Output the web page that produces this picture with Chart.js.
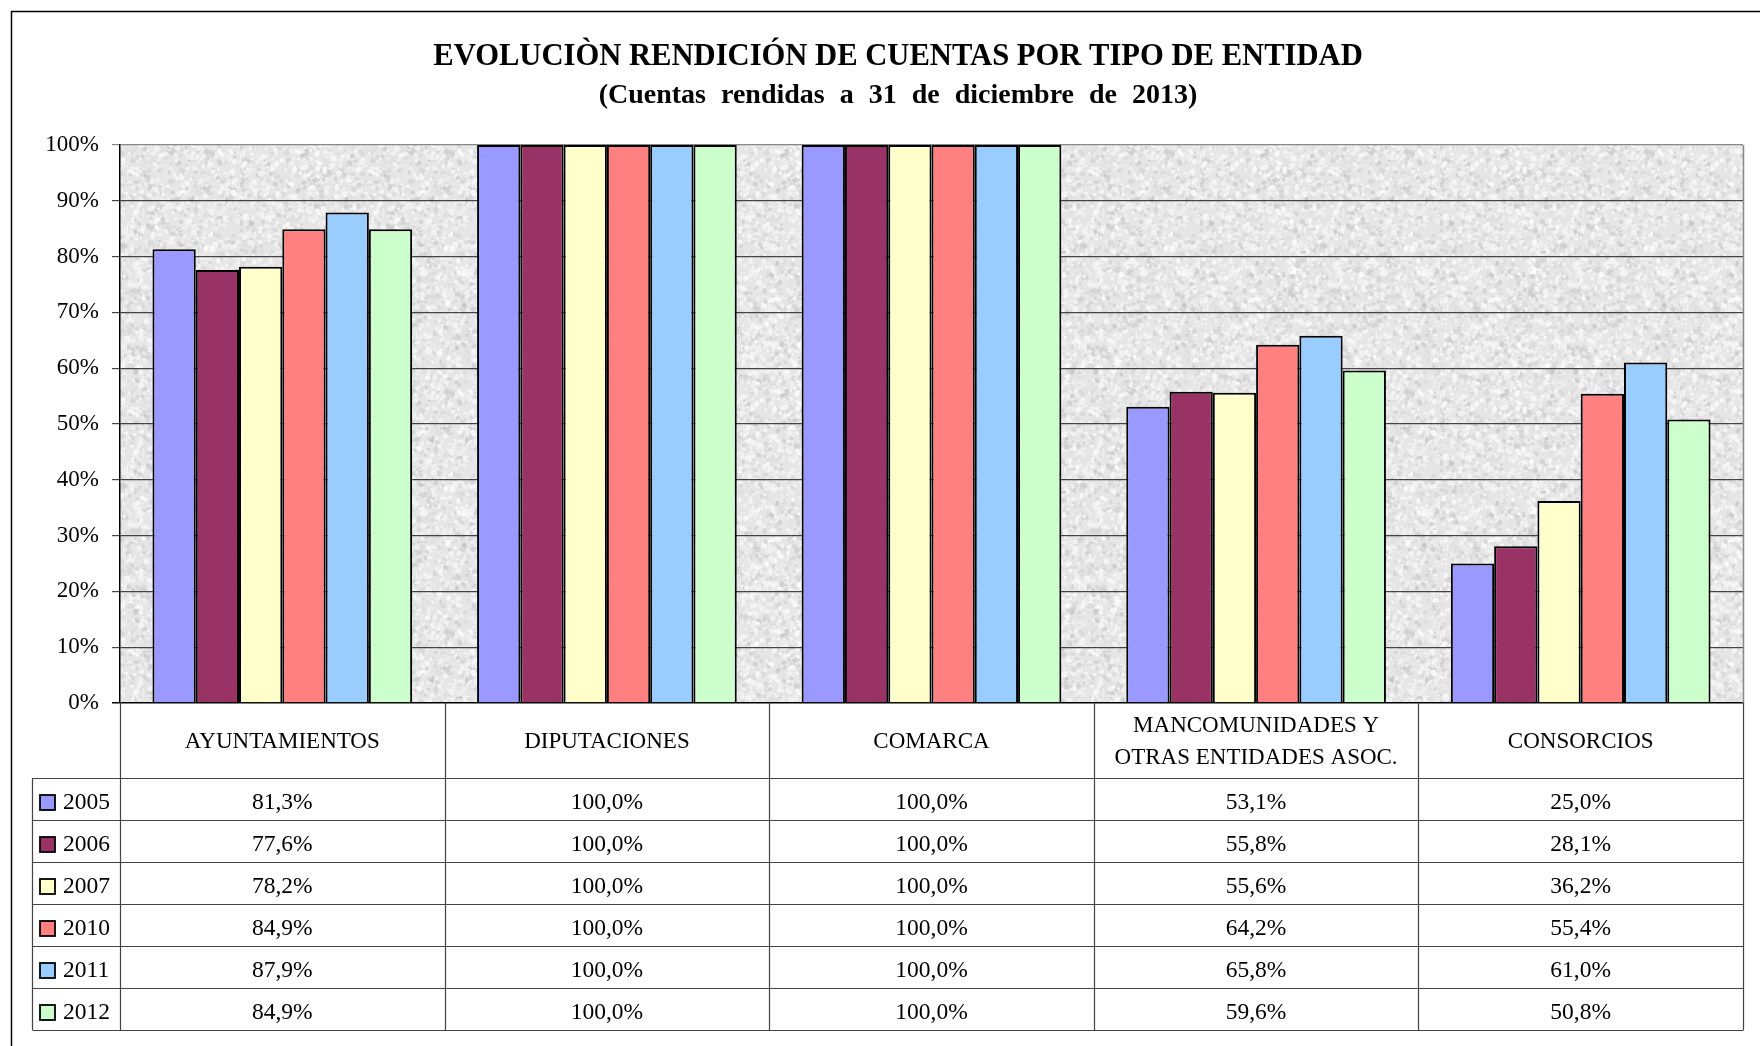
<!DOCTYPE html>
<html><head><meta charset="utf-8">
<script src="https://cdn.jsdelivr.net/npm/chart.js@4/dist/chart.umd.min.js"></script>
<style>html,body{margin:0;padding:0;background:#fff}#wrap{width:1760px;height:1046px}</style>
</head><body><div id="wrap"><canvas id="c" width="1760" height="1046"></canvas></div>
<script>
// ---- data ----
const categories = [['AYUNTAMIENTOS'], ['DIPUTACIONES'], ['COMARCA'], ['MANCOMUNIDADES Y', 'OTRAS ENTIDADES ASOC.'], ['CONSORCIOS']];
const years = ['2005', '2006', '2007', '2010', '2011', '2012'];
const v2005 = [81.3, 100.0, 100.0, 53.1, 25.0];
const v2006 = [77.6, 100.0, 100.0, 55.8, 28.1];
const v2007 = [78.2, 100.0, 100.0, 55.6, 36.2];
const v2010 = [84.9, 100.0, 100.0, 64.2, 55.4];
const v2011 = [87.9, 100.0, 100.0, 65.8, 61.0];
const v2012 = [84.9, 100.0, 100.0, 59.6, 50.8];
const seriesValues = [v2005, v2006, v2007, v2010, v2011, v2012];
const colors = ['#9999FF', '#993366', '#FFFFCC', '#FF8080', '#99CCFF', '#CCFFCC'];
const yTickValues = [0, 10, 20, 30, 40, 50, 60, 70, 80, 90, 100];
const titleLine1 = 'EVOLUCIÒN RENDICIÓN DE CUENTAS POR TIPO DE ENTIDAD';
const titleLine2 = '(Cuentas rendidas a 31 de diciembre de 2013)';

const FONT = '"Liberation Serif", "Times New Roman", serif';
const fmt = v => v.toFixed(1).replace('.', ',') + '%';

// ---- decorative granite texture (deterministic) ----
function makeTexture() {
  const c = document.createElement('canvas');
  c.width = 240; c.height = 240;
  const g = c.getContext('2d');
  g.fillStyle = '#e6e6e6';
  g.fillRect(0, 0, 240, 240);
  let s = 12345;
  const rnd = () => { s = (s * 1103515245 + 12345) & 0x7fffffff; return s / 0x7fffffff; };
  for (let i = 0; i < 5000; i++) {
    const x = rnd() * 240, y = rnd() * 240, r = 0.6 + rnd() * 2.2;
    const light = rnd() < 0.55;
    const sh = light ? Math.round(238 + rnd() * 17) : Math.round(185 + rnd() * 40);
    g.fillStyle = `rgba(${sh},${sh},${sh},${light ? 0.7 : 0.45})`;
    g.beginPath();
    g.ellipse(x, y, r, r * (0.5 + rnd()), rnd() * Math.PI, 0, Math.PI * 2);
    g.fill();
  }
  return c;
}
const texture = makeTexture();

const bgPlugin = {
  id: 'bg',
  beforeDraw(chart) {
    const { ctx, chartArea: a } = chart;
    ctx.save();
    ctx.fillStyle = ctx.createPattern(texture, 'repeat');
    ctx.fillRect(a.left, a.top, a.right - a.left, a.bottom - a.top);
    ctx.restore();
  }
};

const tablePlugin = {
  id: 'table',
  afterDraw(chart) {
    const { ctx, chartArea: a } = chart;
    const xs = chart.scales.x;
    const n = categories.length;
    const colW = (a.right - a.left) / n;
    const catTop = a.bottom, catBot = a.bottom + 75, rowH = 42;
    const tableBot = catBot + rowH * years.length;
    const legL = 32.5;
    ctx.save();

    // right border of plot area
    ctx.strokeStyle = '#888';
    ctx.lineWidth = 1.5;
    ctx.beginPath();
    ctx.moveTo(a.right + 0.5, a.top); ctx.lineTo(a.right + 0.5, a.bottom);
    ctx.stroke();

    // table lines
    ctx.strokeStyle = '#444';
    ctx.lineWidth = 1.2;
    ctx.beginPath();
    for (let i = 0; i <= n; i++) {
      const x = Math.round(a.left + i * colW) + 0.5;
      ctx.moveTo(x, catTop); ctx.lineTo(x, tableBot);
    }
    ctx.moveTo(legL, catBot); ctx.lineTo(legL, tableBot);
    for (let r = 0; r <= years.length; r++) {
      const y = Math.round(catBot + r * rowH) + 0.5;
      ctx.moveTo(legL, y); ctx.lineTo(a.right + 0.5, y);
    }
    ctx.stroke();

    // category labels
    ctx.fillStyle = '#000';
    ctx.font = '23px ' + FONT;
    ctx.textAlign = 'center';
    ctx.textBaseline = 'middle';
    categories.forEach((lines, i) => {
      const cx = xs.getPixelForValue(i);
      const cy = (catTop + catBot) / 2 + 1;
      const lh = 32;
      lines.forEach((t, k) => {
        ctx.fillText(t, cx, cy + (k - (lines.length - 1) / 2) * lh);
      });
    });

    // rows
    ctx.font = '23.5px ' + FONT;
    years.forEach((yr, r) => {
      const cy = catBot + r * rowH + rowH / 2 + 4;
      // legend swatch
      ctx.fillStyle = colors[r];
      ctx.fillRect(40, cy - 8, 15, 15);
      ctx.strokeStyle = '#000';
      ctx.lineWidth = 1.8;
      ctx.strokeRect(40, cy - 8, 15, 15);
      ctx.fillStyle = '#000';
      ctx.textAlign = 'left';
      ctx.fillText(yr, 63, cy);
      ctx.textAlign = 'center';
      seriesValues[r].forEach((v, i) => {
        ctx.fillText(fmt(v), xs.getPixelForValue(i), cy);
      });
    });

    // titles
    ctx.fillStyle = '#000';
    ctx.textAlign = 'center';
    ctx.font = 'bold 30.6px ' + FONT;
    ctx.fillText(titleLine1, 898, 57);
    ctx.font = 'bold 28px ' + FONT;
    if ('wordSpacing' in ctx) ctx.wordSpacing = '8px';
    ctx.fillText(titleLine2, 898, 96);
    if ('wordSpacing' in ctx) ctx.wordSpacing = '0px';

    // outer frame
    ctx.strokeStyle = '#000';
    ctx.lineWidth = 1.5;
    ctx.beginPath();
    ctx.moveTo(11.5, 1046); ctx.lineTo(11.5, 11.5); ctx.lineTo(1760, 11.5);
    ctx.stroke();
    ctx.restore();
  }
};

new Chart(document.getElementById('c'), {
  type: 'bar',
  data: {
    labels: categories.map(c => c.join(' ')),
    datasets: years.map((y, i) => ({
      label: y,
      data: seriesValues[i],
      backgroundColor: colors[i],
      borderColor: '#000',
      borderWidth: 2,
      categoryPercentage: 0.8,
      barPercentage: 1.0
    }))
  },
  options: {
    responsive: false,
    animation: false,
    devicePixelRatio: 1,
    layout: { padding: { left: 45, right: 17, top: 145, bottom: 343 } },
    plugins: { legend: { display: false }, title: { display: false }, tooltip: { enabled: false } },
    scales: {
      x: { display: false },
      y: {
        min: 0, max: 100,
        afterBuildTicks: s => { s.ticks = yTickValues.map(v => ({ value: v })); },
        afterFit: s => { s.width = 75; },
        ticks: {
          callback: v => v + '%',
          color: '#000',
          font: { family: FONT, size: 23 },
          padding: 13
        },
        grid: {
          color: c => (c.tick && c.tick.value === 0) ? '#000' : (c.tick && c.tick.value === 100 ? '#888' : '#444'),
          lineWidth: c => (c.tick && c.tick.value === 0) ? 1.5 : 1.2,
          tickLength: 8,
          drawTicks: true
        },
        border: { color: '#000', width: 1.5 }
      }
    }
  },
  plugins: [bgPlugin, tablePlugin]
});
</script>
</body></html>
